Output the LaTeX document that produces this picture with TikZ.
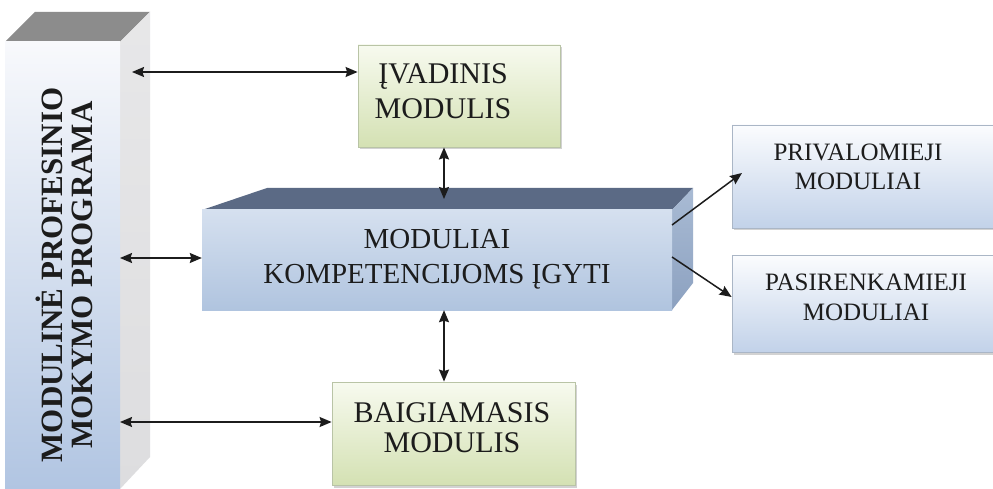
\documentclass[tikz,border=0pt]{standalone}
\usepackage{fontspec}
\setmainfont{Liberation Serif}
\usetikzlibrary{arrows.meta,shadows}

\definecolor{pilTop}{HTML}{8C8C8C}
\definecolor{pilSide}{HTML}{DDDDDF}
\definecolor{pilFrontTop}{HTML}{F8F9FC}
\definecolor{pilFrontBot}{HTML}{B1C5E2}
\definecolor{cubeTop}{HTML}{5B6A85}
\definecolor{cubeSide}{HTML}{8CA1C0}
\definecolor{cubeSideB}{HTML}{A9BBD4}
\definecolor{cubeFrontA}{HTML}{D5E0EF}
\definecolor{cubeFrontB}{HTML}{B0C4DF}
\definecolor{greenTop}{HTML}{F7FAEF}
\definecolor{greenBot}{HTML}{D4E1B3}
\definecolor{greenEdge}{HTML}{B9C4A6}
\definecolor{blueTop}{HTML}{FBFCFE}
\definecolor{blueBot}{HTML}{C2D2E9}
\definecolor{blueEdge}{HTML}{AAB6C6}
\definecolor{ink}{HTML}{1C1C1C}

\tikzset{
  dbl/.style={{Stealth[length=12pt,width=10pt,inset=1.5pt]}-{Stealth[length=12pt,width=10pt,inset=1.5pt]}, line width=1.5pt, draw=ink},
  single/.style={-{Stealth[length=12pt,width=10pt,inset=1.5pt]}, line width=1.5pt, draw=ink},
  greenbox/.style={rectangle, draw=greenEdge, line width=0.8pt, top color=greenTop, bottom color=greenBot,
    drop shadow={shadow xshift=2pt, shadow yshift=-2.5pt, opacity=0.35}},
  bluebox/.style={rectangle, draw=blueEdge, line width=0.8pt, top color=blueTop, bottom color=blueBot,
    drop shadow={shadow xshift=2pt, shadow yshift=-2.5pt, opacity=0.35}},
  lbl/.style={align=center, text=ink, inner sep=0pt},
}

\begin{document}
\begin{tikzpicture}[x=1pt, y=-1pt]
\useasboundingbox (0,0) rectangle (993,489);
\fill[white] (0,0) rectangle (993,489);

% --- program pillar ---
\fill[pilTop] (5,42) -- (35,12) -- (150,12) -- (120,42) -- cycle;
\shade[top color=pilSide!70!white, bottom color=pilSide] (120,42) -- (150,12) -- (150,457) -- (120,489) -- cycle;
\shade[top color=pilFrontTop, bottom color=pilFrontBot] (5,42) rectangle (120,489);
\node[lbl, rotate=90, font=\bfseries\fontsize{31}{30}\selectfont] (prog) at (64,275)
  {MODULINĖ PROFESINIO\\MOKYMO PROGRAMA};
\coordinate (progA) at (132,72);
\coordinate (progB) at (120,258);
\coordinate (progC) at (120,422);

% --- central block ---
\fill[cubeTop] (202,210) -- (267,188) -- (693,188) -- (672,210) -- cycle;
\shade[top color=cubeSideB, bottom color=cubeSide] (672,210) -- (693,188) -- (693,283) -- (672,310) -- cycle;
\node[rectangle, minimum width=470pt, minimum height=100pt, inner sep=0pt,
      top color=cubeFrontA, bottom color=cubeFrontB] (core) at (437,260) {};
\node[lbl, font=\fontsize{29}{35}\selectfont] (coretext) at (437,259) {MODULIAI\\KOMPETENCIJOMS ĮGYTI};
\coordinate (coreTop) at (444,199);
\coordinate (coreR1) at (672,225);
\coordinate (coreR2) at (672,257);

% --- introductory module ---
\node[greenbox, minimum width=202pt, minimum height=102pt, inner sep=0pt] (intro) at (459,96) {};
\node[lbl, font=\fontsize{30}{35}\selectfont] (introtext) at (443,91) {ĮVADINIS\\MODULIS};

% --- final module ---
\node[greenbox, minimum width=243pt, minimum height=103pt, inner sep=0pt] (final) at (453.5,433.5) {};
\node[lbl, font=\fontsize{30}{30}\selectfont] (finaltext) at (452,428) {BAIGIAMASIS\\MODULIS};

% --- compulsory and optional modules ---
\node[bluebox, minimum width=268pt, minimum height=103pt, inner sep=0pt] (must) at (866,176.5) {};
\node[lbl, font=\fontsize{25}{29}\selectfont] (musttext) at (858,167) {PRIVALOMIEJI\\MODULIAI};
\node[bluebox, minimum width=268pt, minimum height=97pt, inner sep=0pt] (opt) at (866,303.5) {};
\node[lbl, font=\fontsize{25}{30}\selectfont] (opttext) at (866,297) {PASIRENKAMIEJI\\MODULIAI};

% --- connectors ---
\draw[dbl] (progA) -- (intro.west |- progA);
\draw[dbl] (progB) -- (core.west |- progB);
\draw[dbl] (progC) -- (final.west |- progC);
\draw[dbl] (intro.south -| coreTop) -- (coreTop);
\draw[dbl] (core.south -| coreTop) -- (final.north -| coreTop);
\draw[single] (coreR1) -- (742,173) coordinate (mustIn);
\draw[single] (coreR2) -- (opt.west |- 0,297);
\end{tikzpicture}
\end{document}
